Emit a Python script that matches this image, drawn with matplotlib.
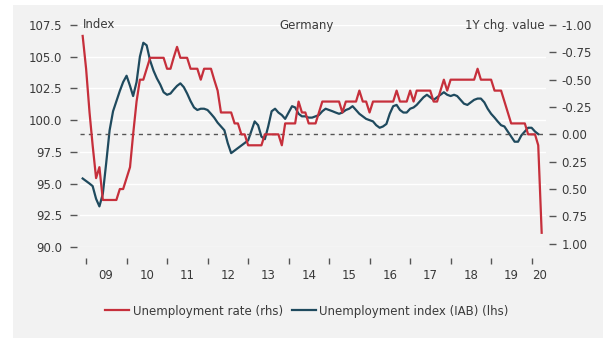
import numpy as np
import pandas as pd
import matplotlib
matplotlib.use('Agg')
import matplotlib.pyplot as plt
import matplotlib.dates as mdates
from matplotlib.patches import Rectangle
from matplotlib.ticker import FixedLocator, FixedFormatter, NullFormatter, FormatStrFormatter

# Unemployment rate, 1Y change in pp (rhs, inverted), monthly from Dec 2008
rate_chg = [
    -0.9,
    -0.6, -0.2, 0.1, 0.4, 0.3, 0.6, 0.6, 0.6, 0.6, 0.6, 0.5, 0.5,        # 2009
    0.4, 0.3, 0.0, -0.3, -0.5, -0.5, -0.6, -0.7, -0.7, -0.7, -0.7, -0.7,  # 2010
    -0.6, -0.6, -0.7, -0.8, -0.7, -0.7, -0.7, -0.6, -0.6, -0.6, -0.5, -0.6,  # 2011
    -0.6, -0.6, -0.5, -0.4, -0.2, -0.2, -0.2, -0.2, -0.1, -0.1, 0.0, 0.0,  # 2012
    0.1, 0.1, 0.1, 0.1, 0.1, 0.0, 0.0, 0.0, 0.0, 0.0, 0.1, -0.1,          # 2013
    -0.1, -0.1, -0.1, -0.3, -0.2, -0.2, -0.1, -0.1, -0.1, -0.2, -0.3, -0.3,  # 2014
    -0.3, -0.3, -0.3, -0.3, -0.2, -0.3, -0.3, -0.3, -0.3, -0.4, -0.3, -0.3,  # 2015
    -0.2, -0.3, -0.3, -0.3, -0.3, -0.3, -0.3, -0.3, -0.4, -0.3, -0.3, -0.3,  # 2016
    -0.4, -0.3, -0.4, -0.4, -0.4, -0.4, -0.4, -0.3, -0.3, -0.4, -0.5, -0.4,  # 2017
    -0.5, -0.5, -0.5, -0.5, -0.5, -0.5, -0.5, -0.5, -0.6, -0.5, -0.5, -0.5,  # 2018
    -0.5, -0.4, -0.4, -0.4, -0.3, -0.2, -0.1, -0.1, -0.1, -0.1, -0.1, 0.0,  # 2019
    0.0, 0.0, 0.1, 0.9,                                                    # 2020
]

# IAB unemployment barometer, index (lhs), monthly from Dec 2008
iab_index = [
    95.4,
    95.2, 95.0, 94.8, 93.8, 93.2, 94.2, 96.6, 99.2, 100.7, 101.5, 102.3, 103.0,   # 2009
    103.5, 102.7, 101.9, 103.0, 105.0, 106.1, 105.9, 104.7, 103.9, 103.3, 102.8, 102.2,  # 2010
    102.0, 102.1, 102.4, 102.7, 102.9, 102.6, 102.1, 101.5, 101.0, 100.8, 100.9, 100.9,  # 2011
    100.8, 100.5, 100.2, 99.8, 99.5, 99.2, 98.2, 97.4, 97.6, 97.8, 98.0, 98.2,    # 2012
    98.4, 99.2, 99.9, 99.6, 98.7, 98.5, 99.5, 100.7, 100.9, 100.6, 100.4, 100.1,  # 2013
    100.6, 101.1, 101.0, 100.5, 100.3, 100.3, 100.2, 100.2, 100.3, 100.4, 100.7, 100.9,  # 2014
    100.8, 100.7, 100.6, 100.5, 100.6, 100.8, 100.9, 101.1, 100.8, 100.5, 100.3, 100.1,  # 2015
    100.0, 99.9, 99.6, 99.4, 99.5, 99.7, 100.5, 101.1, 101.2, 100.8, 100.6, 100.6,  # 2016
    100.9, 101.0, 101.2, 101.5, 101.8, 102.0, 101.8, 101.6, 101.8, 102.0, 102.2, 102.0,  # 2017
    101.9, 102.0, 101.9, 101.6, 101.3, 101.2, 101.4, 101.6, 101.7, 101.7, 101.4, 100.9,  # 2018
    100.5, 100.2, 99.9, 99.6, 99.5, 99.1, 98.7, 98.3, 98.3, 98.8, 99.1, 99.4,     # 2019
    99.4, 99.1, 98.9,                                                              # 2020
]

year_labels = ['09', '10', '11', '12', '13', '14', '15', '16', '17', '18', '19', '20']

RED = '#c62f3b'
BLUE = '#1f4a5e'
TXT = '#3a3a3a'

rate_dates = pd.date_range('2008-12-01', periods=len(rate_chg), freq='MS')
iab_dates = pd.date_range('2008-12-01', periods=len(iab_index), freq='MS')

W, H = 603, 338
fig = plt.figure(figsize=(W / 100, H / 100), dpi=100)
fig.patch.set_facecolor('white')
fig.patches.append(Rectangle((13 / W, 0), 1 - 13 / W, 1 - 5 / H, transform=fig.transFigure,
                             facecolor='#f2f2f2', edgecolor='none', zorder=-10))

ax = fig.add_axes([80 / W, 1 - 247 / H, (546 - 80) / W, 222 / H])
ax.set_facecolor('none')
ax2 = ax.twinx()

l_blue, = ax.plot(iab_dates, iab_index, color=BLUE, lw=1.6, zorder=3)
l_red, = ax2.plot(rate_dates, rate_chg, color=RED, lw=1.6, zorder=3)
ax2.axhline(0, color='#555555', lw=1, ls=(0, (3, 3)), zorder=1)

ax.set_xlim(pd.Timestamp('2008-11-07'), pd.Timestamp('2020-05-10'))
ax.set_ylim(90, 107.5)
ax2.set_ylim(1.03, -1.0)

# left axis: index
ax.set_yticks(np.arange(90, 107.6, 2.5))
ax.yaxis.set_major_formatter(FormatStrFormatter('%.1f'))
ax.yaxis.grid(True, color='white', lw=1)
ax.set_axisbelow(True)

# right axis: 1Y change, inverted
ax2.set_yticks(np.arange(-1, 1.01, 0.25))
ax2.yaxis.set_major_formatter(FormatStrFormatter('%.2f'))

for a in (ax, ax2):
    for s in a.spines.values():
        s.set_visible(False)
ax.spines['left'].set_position(('outward', 2))
ax2.spines['right'].set_position(('outward', 2))
ax.spines['bottom'].set_position(('outward', 8))

ax.tick_params(axis='y', length=5, width=1, color='#555555', pad=6, labelsize=8.5, labelcolor=TXT)
ax2.tick_params(axis='y', length=5, width=1, color='#555555', pad=4, labelsize=8.5, labelcolor=TXT)

# years: tick marks at year start, labels mid-year
year_starts = [pd.Timestamp(f'20{y}-01-01') for y in year_labels]
label_pos = [pd.Timestamp(f'20{y}-07-01') for y in year_labels[:-1]] + [pd.Timestamp('2020-03-15')]
ax.xaxis.set_major_locator(FixedLocator(mdates.date2num(year_starts)))
ax.xaxis.set_major_formatter(NullFormatter())
ax.xaxis.set_minor_locator(FixedLocator(mdates.date2num(label_pos)))
ax.xaxis.set_minor_formatter(FixedFormatter(year_labels))
ax.tick_params(axis='x', which='major', length=4, width=1, color='#555555', direction='out')
ax.tick_params(axis='x', which='minor', length=0, pad=8, labelsize=8.5, labelcolor=TXT)

fig.text(83 / W, 1 - 25 / H, 'Index', ha='left', va='center', fontsize=8.5, color=TXT)
fig.text(307 / W, 1 - 25 / H, 'Germany', ha='center', va='center', fontsize=8.5, color=TXT)
fig.text(545 / W, 1 - 25 / H, '1Y chg. value', ha='right', va='center', fontsize=8.5, color=TXT)

fig.legend([l_red, l_blue], ['Unemployment rate (rhs)', 'Unemployment index (IAB) (lhs)'],
           loc='center', bbox_to_anchor=(307 / W, 1 - 311 / H), ncol=2, frameon=False,
           fontsize=8.5, handlelength=2.0, handletextpad=0.3, columnspacing=0.8,
           labelcolor=TXT)

fig.savefig('out.png', dpi=100)
